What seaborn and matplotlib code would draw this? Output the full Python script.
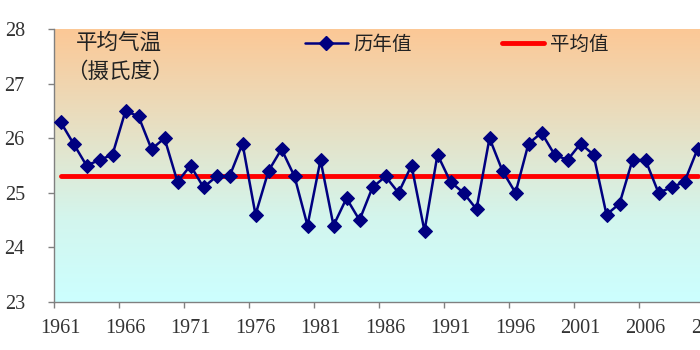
import matplotlib
matplotlib.use("Agg")
import numpy as np
import pandas as pd
import matplotlib.pyplot as plt
import seaborn as sns
from matplotlib.colors import LinearSegmentedColormap
from matplotlib.lines import Line2D
from matplotlib.ticker import FixedLocator, FixedFormatter

# ---------------- data ----------------
years = list(range(1961, 2011))
temps = [26.3, 25.9, 25.5, 25.6, 25.7, 26.5, 26.4, 25.8, 26.0, 25.2,
         25.5, 25.1, 25.3, 25.3, 25.9, 24.6, 25.4, 25.8, 25.3, 24.4,
         25.6, 24.4, 24.9, 24.5, 25.1, 25.3, 25.0, 25.5, 24.3, 25.7,
         25.2, 25.0, 24.7, 26.0, 25.4, 25.0, 25.9, 26.1, 25.7, 25.6,
         25.9, 25.7, 24.6, 24.8, 25.6, 25.6, 25.0, 25.1, 25.2, 25.8]
mean_value = 25.3
mean_series = [mean_value] * len(years)
xtick_labels = [1961, 1966, 1971, 1976, 1981, 1986, 1991, 1996, 2001, 2006, 2011]
yticks = [23, 24, 25, 26, 27, 28]
series_names = ["历年值", "平均值"]
title_lines = ["平均气温", "（摄氏度）"]

df = pd.DataFrame({"year": years, "temp": temps, "mean": mean_series})

# ---------------- style ----------------
sns.set_theme(style="white")
plt.rcParams["font.family"] = ["Noto Sans CJK SC", "DejaVu Sans"]

fig = plt.figure(figsize=(7, 3.5), dpi=100)
px_per_year = 13.0
x0, x1 = 1960.5, 2015.5
ax = fig.add_axes([54 / 700, 48 / 350, (x1 - x0) * px_per_year / 700, 273 / 350])

# gradient background
cmap = LinearSegmentedColormap.from_list(
    "bg", [(0.0, "#CCFFFF"), (0.3, "#D3F6EE"), (1.0, "#FCC896")])
grad = np.linspace(0, 1, 256).reshape(-1, 1)
ax.imshow(grad, cmap=cmap, origin="lower", extent=[0, 1, 0, 1],
          transform=ax.transAxes, aspect="auto", zorder=0)

sns.lineplot(data=df, x="year", y="mean", ax=ax, color="#FF0000",
             linewidth=3.5, zorder=2, legend=False)
sns.lineplot(data=df, x="year", y="temp", ax=ax, color="#000080",
             linewidth=1.8, marker="D", markersize=7,
             markeredgecolor="#000080", markerfacecolor="#000080",
             zorder=3, legend=False)

ax.set_xlim(x0, x1)
ax.set_ylim(23, 28)
ax.set_xlabel("")
ax.set_ylabel("")

# x: tick marks at category boundaries, labels at category centres
boundaries = [t - 0.5 for t in xtick_labels]
ax.xaxis.set_major_locator(FixedLocator(boundaries))
ax.xaxis.set_major_formatter(FixedFormatter([""] * len(boundaries)))
ax.xaxis.set_minor_locator(FixedLocator(xtick_labels))
ax.xaxis.set_minor_formatter(FixedFormatter([str(t) for t in xtick_labels]))
ax.tick_params(axis="x", which="major", direction="out", length=4.5,
               width=1, color="#808080", bottom=True)
ax.tick_params(axis="x", which="minor", length=0, pad=12, labelsize=14.5,
               labelcolor="#333333", bottom=True)
ax.set_yticks(yticks)
ax.set_yticklabels([str(v) for v in yticks])
ax.tick_params(axis="y", direction="out", length=4, width=1,
               color="#808080", left=True, pad=17, labelsize=14.5,
               labelcolor="#333333")
for lab in ax.get_xticklabels(minor=True) + ax.get_yticklabels():
    lab.set_fontfamily(["Liberation Serif", "DejaVu Serif"])

for side in ["top", "right"]:
    ax.spines[side].set_visible(False)
for side in ["left", "bottom"]:
    ax.spines[side].set_color("#808080")
    ax.spines[side].set_linewidth(1)

# inner title
fig.text(76 / 700, 1 - 43 / 350, title_lines[0], fontsize=15.5,
         color="#222222", va="center", ha="left")
fig.text(66 / 700, 1 - 72 / 350, title_lines[1], fontsize=15.5,
         color="#222222", va="center", ha="left")

# legend
handles = [
    Line2D([], [], color="#000080", lw=1.8, marker="D", markersize=7),
    Line2D([], [], color="#FF0000", lw=3.5),
]
fig.legend(handles, series_names, loc="center left",
           bbox_to_anchor=(305 / 700, 1 - 44 / 350), ncol=2, frameon=False,
           fontsize=14, handlelength=2.2, handletextpad=0.3,
           columnspacing=4.6, borderpad=0, borderaxespad=0,
           labelcolor="#222222")

fig.savefig("out.png", dpi=100)
